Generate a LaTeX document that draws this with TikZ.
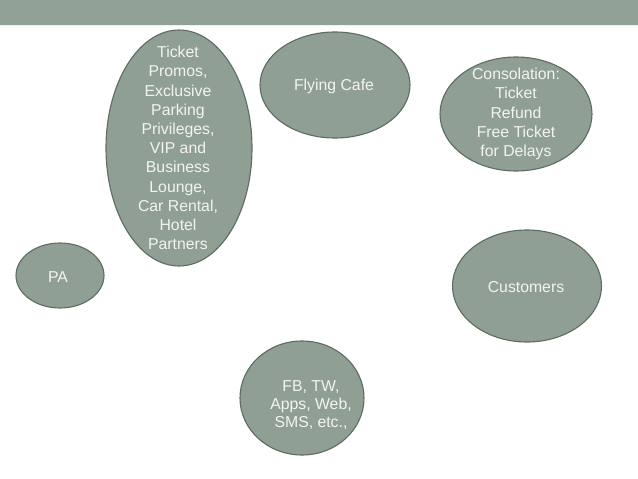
\documentclass[tikz,border=0pt]{standalone}
\usepackage{fontspec}
\setmainfont{Liberation Sans}
\usetikzlibrary{shapes.geometric}
\definecolor{bar}{HTML}{91A195}
\definecolor{blobfill}{HTML}{8F9F93}
\definecolor{blobline}{HTML}{5E6B62}
\definecolor{txt}{HTML}{F3F4EF}
\tikzset{
  blob/.style={ellipse, draw=blobline, line width=1.1pt, fill=blobfill, inner sep=0pt},
  lbl/.style={text=txt, align=center, inner sep=0pt},
}
\newcommand{\lfont}[1]{\fontsize{15.8}{#1}\selectfont}
\begin{document}
\begin{tikzpicture}[x=1pt,y=-1pt]
\useasboundingbox (0,0) rectangle (638,479);
\fill[white] (0,0) rectangle (638,479);
\fill[bar] (0,0) rectangle (638,25);
\draw[white!85!bar, line width=0.8pt] (0,25.6) -- (638,25.6);

\node[blob, minimum width=146pt, minimum height=236pt] (promo) at (179,148) {};
\node[lbl, font=\lfont{19.2}] (promot) at (178,148) {Ticket\\Promos,\\Exclusive\\Parking\\Privileges,\\VIP and\\Business\\Lounge,\\Car Rental,\\Hotel\\Partners};

\node[blob, minimum width=150pt, minimum height=106pt] (cafe) at (335,85) {};
\node[lbl, font=\lfont{19}] (cafet) at (334,86) {Flying Cafe};

\node[blob, minimum width=152pt, minimum height=114pt] (cons) at (516,114) {};
\node[lbl, font=\lfont{19.2}] (const) at (516,114) {Consolation:\\Ticket\\Refund\\Free Ticket\\for Delays};

\node[blob, minimum width=88pt, minimum height=65pt] (pa) at (60,275.5) {};
\node[lbl, font=\lfont{19}] (pat) at (58,277) {PA};

\node[blob, minimum width=149pt, minimum height=112pt] (cust) at (527,286) {};
\node[lbl, font=\lfont{19}] (custt) at (526,287) {Customers};

\node[blob, minimum width=124pt, minimum height=114pt] (fb) at (302,398) {};
\node[lbl, font=\lfont{18.3}] (fbt) at (311,405) {FB, TW,\\Apps, Web,\\SMS, etc.,};
\end{tikzpicture}
\end{document}
